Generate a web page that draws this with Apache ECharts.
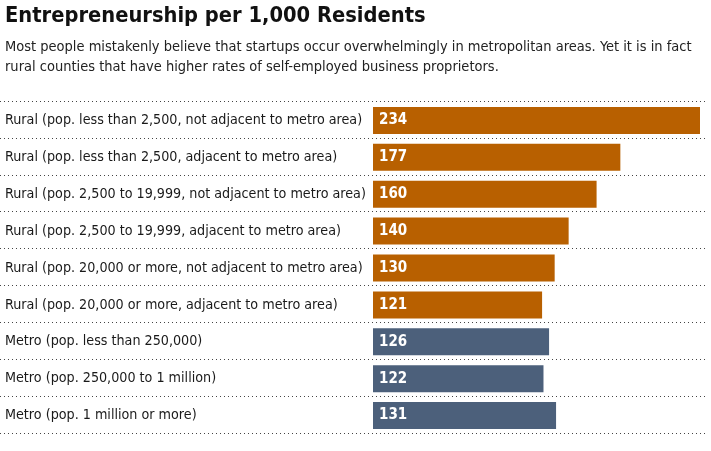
<!DOCTYPE html>
<html>
<head>
<meta charset="utf-8">
<script src="https://cdn.jsdelivr.net/npm/echarts@6/dist/echarts.min.js"></script>
<style>
  html, body { margin: 0; padding: 0; background: #fff; }
  #chart { width: 711px; height: 451px; }
</style>
</head>
<body>
<div id="chart"></div>
<script>
var categories = [
  'Rural (pop. less than 2,500, not adjacent to metro area)',
  'Rural (pop. less than 2,500, adjacent to metro area)',
  'Rural (pop. 2,500 to 19,999, not adjacent to metro area)',
  'Rural (pop. 2,500 to 19,999, adjacent to metro area)',
  'Rural (pop. 20,000 or more, not adjacent to metro area)',
  'Rural (pop. 20,000 or more, adjacent to metro area)',
  'Metro (pop. less than 250,000)',
  'Metro (pop. 250,000 to 1 million)',
  'Metro (pop. 1 million or more)'
];
var values = [234, 177, 160, 140, 130, 121, 126, 122, 131];
var groups = ['rural', 'rural', 'rural', 'rural', 'rural', 'rural', 'metro', 'metro', 'metro'];

var groupColor = { rural: '#B86000', metro: '#4C607B' };
var font = '"Liberation Sans Narrow", "DejaVu Sans Condensed", sans-serif';

var myChart = echarts.init(document.getElementById('chart'));
var option = {
  animation: false,
  title: [
    {
      text: 'Entrepreneurship per 1,000 Residents',
      left: 5, top: 5, padding: 0,
      textStyle: { fontFamily: font, fontSize: 21.7, fontWeight: 'bold', color: '#111' }
    },
    {
      text: 'Most people mistakenly believe that startups occur overwhelmingly in metropolitan areas. Yet it is in fact\nrural counties that have higher rates of self-employed business proprietors.',
      left: 5, top: 37, padding: 0,
      textStyle: { fontFamily: font, fontSize: 14.5, fontWeight: 'normal', color: '#222', lineHeight: 20 }
    }
  ],
  grid: [
    { left: 0, right: 6, top: 101, bottom: 18 },
    { left: 373, right: 11, top: 102, bottom: 17 }
  ],
  xAxis: [
    { gridIndex: 0, type: 'value', show: false, min: 0, max: 1 },
    { gridIndex: 1, type: 'value', show: false, min: 0, max: 234 }
  ],
  yAxis: [
    {
      gridIndex: 0, type: 'category', data: categories, inverse: true,
      axisLine: { show: false }, axisTick: { show: false }, axisLabel: { show: false },
      splitLine: { show: true, interval: 0, lineStyle: { type: [1, 3], color: '#444', width: 1 } }
    },
    {
      gridIndex: 1, type: 'category', data: categories, inverse: true,
      axisLine: { show: false }, axisTick: { show: false },
      axisLabel: {
        interval: 0, align: 'left', margin: 368,
        fontFamily: font, fontSize: 14.2, color: '#1a1a1a'
      }
    }
  ],
  series: [
    {
      type: 'bar',
      xAxisIndex: 1, yAxisIndex: 1,
      barWidth: 27,
      data: values.map(function (v, i) {
        return { value: v, itemStyle: { color: groupColor[groups[i]] } };
      }),
      label: {
        show: true, position: 'insideLeft', distance: 6,
        fontFamily: font, fontSize: 15, fontWeight: 'bold', color: '#fff'
      }
    }
  ]
};
option && myChart.setOption(option);
</script>
</body>
</html>
